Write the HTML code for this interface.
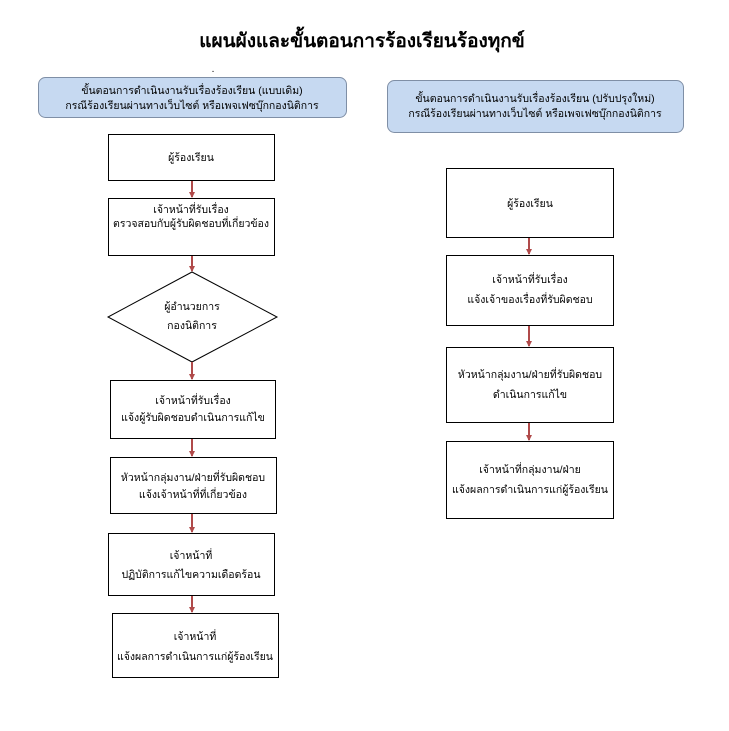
<!DOCTYPE html>
<html><head><meta charset="utf-8">
<style>
html,body{margin:0;padding:0;background:#fff;}
svg{display:block;}
text{font-family:"Liberation Sans","DejaVu Sans",sans-serif;fill:#000;}
</style></head><body>
<svg width="729" height="731" viewBox="0 0 729 731" xmlns="http://www.w3.org/2000/svg">
<defs>
<marker id="ah" markerWidth="6" markerHeight="6" refX="5" refY="3" orient="auto" markerUnits="userSpaceOnUse">
<path d="M0,0 L6,3 L0,6 z" fill="#b04a4a"/>
</marker>
</defs>
<text x="362" y="47" font-size="19" font-weight="bold" text-anchor="middle">แผนผังและขั้นตอนการร้องเรียนร้องทุกข์</text>
<text x="213" y="72" font-size="10" text-anchor="middle">.</text>

<rect x="38.5" y="77.5" width="308" height="40" rx="7" fill="#c6d9f1" stroke="#7f8fa6"/>
<text x="192" y="94" font-size="10.5" text-anchor="middle">ขั้นตอนการดำเนินงานรับเรื่องร้องเรียน (แบบเดิม)</text>
<text x="192" y="109" font-size="10.5" text-anchor="middle">กรณีร้องเรียนผ่านทางเว็บไซต์ หรือเพจเฟซบุ๊กกองนิติการ</text>

<rect x="387.5" y="80.5" width="296" height="52" rx="7" fill="#c6d9f1" stroke="#7f8fa6"/>
<text x="535" y="102" font-size="10.5" text-anchor="middle">ขั้นตอนการดำเนินงานรับเรื่องร้องเรียน (ปรับปรุงใหม่)</text>
<text x="535" y="117" font-size="10.5" text-anchor="middle">กรณีร้องเรียนผ่านทางเว็บไซต์ หรือเพจเฟซบุ๊กกองนิติการ</text>

<g fill="#fff" stroke="#000" stroke-width="1">
<rect x="108.5" y="134.5" width="166" height="46"/>
<rect x="108.5" y="198.5" width="166" height="57"/>
<polygon points="192,272 277,317 192,362 108,317"/>
<rect x="110.5" y="380.5" width="165" height="58"/>
<rect x="110.5" y="457.5" width="166" height="56"/>
<rect x="108.5" y="533.5" width="166" height="62"/>
<rect x="112.5" y="613.5" width="166" height="64"/>
<rect x="446.5" y="168.5" width="167" height="69"/>
<rect x="446.5" y="255.5" width="167" height="70"/>
<rect x="446.5" y="347.5" width="167" height="75"/>
<rect x="446.5" y="441.5" width="167" height="77"/>
</g>

<g stroke="#b04a4a" stroke-width="2" marker-end="url(#ah)">
<line x1="192" y1="181" x2="192" y2="197"/>
<line x1="192" y1="256" x2="192" y2="271"/>
<line x1="192" y1="362" x2="192" y2="379"/>
<line x1="192" y1="439" x2="192" y2="456"/>
<line x1="192" y1="514" x2="192" y2="532"/>
<line x1="192" y1="596" x2="192" y2="612"/>
<line x1="529" y1="238" x2="529" y2="254"/>
<line x1="529" y1="326" x2="529" y2="346"/>
<line x1="529" y1="423" x2="529" y2="440"/>
</g>

<g font-size="10.5" text-anchor="middle">
<text x="191" y="161">ผู้ร้องเรียน</text>
<text x="191" y="213">เจ้าหน้าที่รับเรื่อง</text>
<text x="191" y="227">ตรวจสอบกับผู้รับผิดชอบที่เกี่ยวข้อง</text>
<text x="192" y="310">ผู้อำนวยการ</text>
<text x="192" y="329">กองนิติการ</text>
<text x="193" y="404">เจ้าหน้าที่รับเรื่อง</text>
<text x="193" y="421">แจ้งผู้รับผิดชอบดำเนินการแก้ไข</text>
<text x="193" y="481">หัวหน้ากลุ่มงาน/ฝ่ายที่รับผิดชอบ</text>
<text x="193" y="498">แจ้งเจ้าหน้าที่ที่เกี่ยวข้อง</text>
<text x="191" y="559">เจ้าหน้าที่</text>
<text x="191" y="578">ปฏิบัติการแก้ไขความเดือดร้อน</text>
<text x="195" y="640">เจ้าหน้าที่</text>
<text x="195" y="660">แจ้งผลการดำเนินการแก่ผู้ร้องเรียน</text>
<text x="530" y="207">ผู้ร้องเรียน</text>
<text x="530" y="283">เจ้าหน้าที่รับเรื่อง</text>
<text x="530" y="303">แจ้งเจ้าของเรื่องที่รับผิดชอบ</text>
<text x="530" y="378">หัวหน้ากลุ่มงาน/ฝ่ายที่รับผิดชอบ</text>
<text x="530" y="398">ดำเนินการแก้ไข</text>
<text x="530" y="473">เจ้าหน้าที่กลุ่มงาน/ฝ่าย</text>
<text x="530" y="493">แจ้งผลการดำเนินการแก่ผู้ร้องเรียน</text>
</g>
</svg>
</body></html>
